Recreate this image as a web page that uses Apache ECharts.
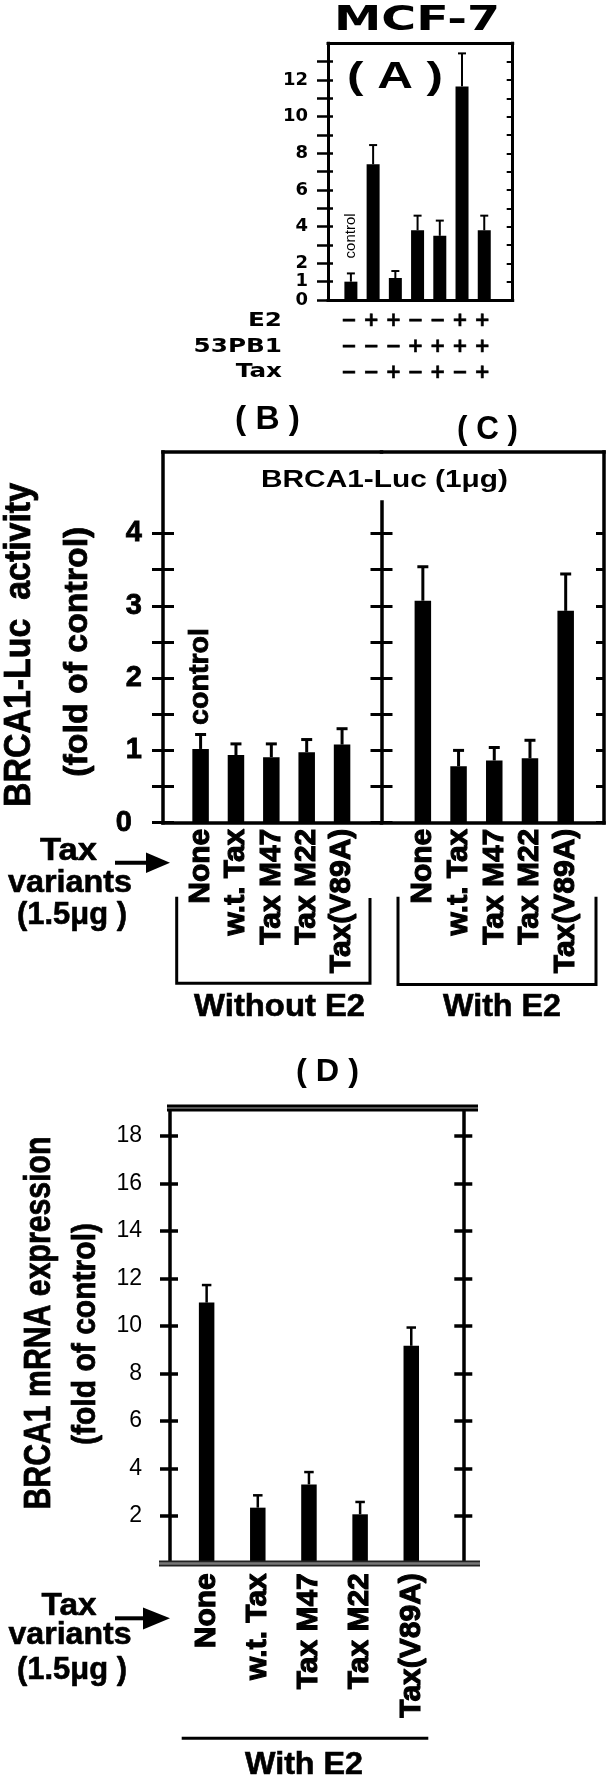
<!DOCTYPE html>
<html><head><meta charset="utf-8">
<script src="https://cdn.jsdelivr.net/npm/echarts@6/dist/echarts.min.js"></script>
<style>html,body{margin:0;padding:0;background:#fff}#c{width:615px;height:1782px}</style>
</head><body><div id="c"></div>
<script>
// ---------- DATA ----------
// Panel A (MCF-7)
const A_POS = [1, 2, 3, 4, 5, 6, 7];
const A_VALUES = [1.0, 7.4, 1.2, 3.8, 3.5, 11.65, 3.8];
const A_ERRORS = [0.45, 1.05, 0.38, 0.8, 0.83, 1.8, 0.8];
const A_E2 = ['−', '+', '+', '−', '−', '+', '+'];
const A_53PB1 = ['−', '−', '−', '+', '+', '+', '+'];
const A_TAX = ['−', '−', '+', '−', '+', '−', '+'];
const A_TICKS = [0, 1, 2, 3, 4, 5, 6, 7, 8, 9, 10, 11, 12, 13];
const A_TICKS_RIGHT = [1, 2, 3, 4, 5, 6, 7, 8, 9, 10, 11, 12, 13];
const A_TICK_LABELS = [0, 1, 2, 4, 6, 8, 10, 12];
// Panels B / C (BRCA1-Luc activity)
const TAX_VARIANTS = ['None', 'w.t. Tax', 'Tax M47', 'Tax M22', 'Tax(V89A)'];
const VAR_POS = [1, 2, 3, 4, 5];
const B_VALUES = [1.02, 0.935, 0.905, 0.975, 1.08];
const B_ERRORS = [0.2, 0.155, 0.185, 0.175, 0.22];
const C_VALUES = [3.07, 0.78, 0.86, 0.89, 2.93];
const C_ERRORS = [0.47, 0.22, 0.18, 0.25, 0.51];
const BC_TICKS = [0, 0.5, 1, 1.5, 2, 2.5, 3, 3.5, 4];
const BC_TICK_LABELS = [0, 1, 2, 3, 4];
// Panel D (BRCA1 mRNA expression)
const D_VALUES = [10.98, 2.34, 3.32, 2.06, 9.16];
const D_ERRORS = [0.74, 0.52, 0.52, 0.52, 0.77];
const D_TICK_LABELS = [2, 4, 6, 8, 10, 12, 14, 16, 18];

// ---------- LAYOUT ----------
const LS = 'Liberation Sans', DJ = 'DejaVu Sans';
const A_X = [-0.03, 8.28], A_YMAX = 14;
const B_X = [-0.063, 6.115], C_X = [-0.158, 6.073], BC_YMAX = 5.127, DIVIDER_TOP = 4.46;
const D_X = [0.284, 6.017], D_YMAX = 19.18;

const chart = echarts.init(document.getElementById('c'), null, {renderer: 'canvas'});
const mctx = document.createElement('canvas').getContext('2d');
function measure(t, size, weight, fam) { mctx.font = weight + ' ' + size + 'px "' + fam + '"'; return mctx.measureText(t).width; }
function T(t, cx, cy, size, weight, fam, target, rot, align, sx, stroke) {
  const s = sx ? sx : (target ? target / measure(t, size, weight, fam) : 1);
  const style = {text: t, fontSize: size, fontWeight: weight, fontFamily: fam, fill: '#000',
    align: align || 'center', textAlign: align || 'center', verticalAlign: 'middle', textVerticalAlign: 'middle'};
  if (stroke) { style.stroke = '#000'; style.lineWidth = stroke; }
  return {type: 'text', x: cx, y: cy, rotation: rot || 0, scaleX: s, z: 20, style};
}
function L(points, w, color) {
  return {type: 'polyline', z: 20, shape: {points}, style: {stroke: color || '#000', lineWidth: w, fill: null}};
}
function P(points) { return {type: 'polygon', z: 20, shape: {points}, style: {fill: '#000'}}; }

function axis(grid, range, position, o) {
  o = o || {};
  return {
    type: 'value', gridIndex: grid, min: range[0], max: range[1], position,
    splitLine: {show: false}, axisPointer: {show: false}, z: 10,
    axisLine: o.line ? {show: true, onZero: false, lineStyle: {color: '#000', width: o.line, cap: 'square'}} : {show: false, onZero: false},
    axisTick: o.ticks ? {show: true, inside: !!o.inside, length: o.tickLen, customValues: o.ticks, lineStyle: {color: '#000', width: o.tickW || 3}} : {show: false},
    axisLabel: o.label ? Object.assign({show: true, color: '#000', showMinLabel: true, showMaxLabel: true, hideOverlap: false}, o.label) : {show: false}
  };
}
const varLabel = (margin) => ({customValues: VAR_POS, formatter: v => TAX_VARIANTS[Math.round(v) - 1], rotate: 90,
  fontFamily: LS, fontWeight: 'bold', fontSize: 30, margin, textBorderColor: '#000', textBorderWidth: 1.1});

function bars(xi, yi, pos, vals, w) {
  return {type: 'bar', xAxisIndex: xi, yAxisIndex: yi, barWidth: w, silent: true, clip: false,
    itemStyle: {color: '#000'}, data: pos.map((x, i) => [x, vals[i]]), z: 5};
}
function errs(xi, yi, pos, vals, er, cap, lw) {
  return {type: 'custom', xAxisIndex: xi, yAxisIndex: yi, clip: false, silent: true, z: 6,
    data: pos.map((x, i) => [x, vals[i], er[i]]),
    renderItem(params, api) {
      const x = api.value(0), v = api.value(1), e = api.value(2);
      const p0 = api.coord([x, v]), p1 = api.coord([x, v + e]);
      return {type: 'group', children: [
        {type: 'line', shape: {x1: p0[0], y1: p0[1], x2: p1[0], y2: p1[1]}, style: {stroke: '#000', lineWidth: lw}},
        {type: 'line', shape: {x1: p1[0] - cap / 2, y1: p1[1], x2: p1[0] + cap / 2, y2: p1[1]}, style: {stroke: '#000', lineWidth: lw}}
      ]};
    }};
}
function control(xi, yi, x, top, size, weight, gap, target, stroke) {
  const s = target ? target / measure('control', size, weight, LS) : 1;
  return {type: 'custom', xAxisIndex: xi, yAxisIndex: yi, clip: false, silent: true, z: 6, data: [[x, top]],
    renderItem(params, api) {
      const p = api.coord([api.value(0), api.value(1)]);
      const style = {text: 'control', fontSize: size, fontWeight: weight, fontFamily: LS, fill: '#000',
        align: 'left', textAlign: 'left', verticalAlign: 'middle', textVerticalAlign: 'middle'};
      if (stroke) { style.stroke = '#000'; style.lineWidth = stroke; }
      return {type: 'text', x: p[0], y: p[1] - gap, rotation: Math.PI / 2, scaleX: s, style};
    }};
}
const signs = {type: 'custom', xAxisIndex: 0, yAxisIndex: 0, clip: false, silent: true, z: 6,
  data: A_POS.map((x, i) => [x, 0, i]),
  renderItem(params, api) {
    const i = api.value(2), p = api.coord([api.value(0), 0]);
    const rows = [[A_E2, 21], [A_53PB1, 47], [A_TAX, 73]];
    return {type: 'group', children: rows.map(r => ({type: 'text', x: p[0] - 2, y: p[1] + r[1],
      style: {text: r[0][i], fontFamily: DJ, fontWeight: 'bold', fontSize: 19, fill: '#000',
        stroke: '#000', lineWidth: 0.6,
        align: 'center', textAlign: 'center', verticalAlign: 'middle', textVerticalAlign: 'middle'}}))};
  }};

const bSeries = bars(2, 3, VAR_POS, B_VALUES, 16.5);
bSeries.markLine = {silent: true, symbol: ['none', 'none'], label: {show: false}, animation: false,
  lineStyle: {color: '#000', width: 3.5, type: 'solid'},
  data: [[{coord: [B_X[1], 0]}, {coord: [B_X[1], DIVIDER_TOP]}]]};

const option = {
  animation: false,
  backgroundColor: '#fff',
  grid: [
    {left: 328, top: 43.3, width: 184.7, height: 256.7},
    {left: 163, top: 452, width: 218.5, height: 370.7},
    {left: 381.5, top: 452, width: 222.5, height: 370.7},
    {left: 170, top: 1108, width: 293.3, height: 455.2}
  ],
  xAxis: [
    axis(0, A_X, 'bottom', {line: 3}),
    axis(0, A_X, 'top', {line: 3}),
    axis(1, B_X, 'bottom', {line: 3.5, label: varLabel(6)}),
    axis(1, B_X, 'top', {line: 3.5}),
    axis(2, C_X, 'bottom', {line: 3.5, label: varLabel(6)}),
    axis(2, C_X, 'top', {line: 3.5}),
    axis(3, D_X, 'bottom', {label: varLabel(10)})
  ],
  yAxis: [
    axis(0, [0, A_YMAX], 'left', {line: 3, ticks: A_TICKS, tickLen: 11, tickW: 2.5,
      label: {customValues: A_TICK_LABELS, fontFamily: DJ, fontWeight: 'bold', fontSize: 18, margin: 20}}),
    axis(0, [0, A_YMAX], 'left', {ticks: A_TICKS, inside: true, tickLen: 5, tickW: 2.5}),
    axis(0, [0, A_YMAX], 'right', {line: 3, ticks: A_TICKS_RIGHT, inside: true, tickLen: 6, tickW: 2}),
    axis(1, [0, BC_YMAX], 'left', {line: 3.5, ticks: BC_TICKS, tickLen: 11,
      label: {customValues: BC_TICK_LABELS, fontFamily: LS, fontWeight: 'bold', fontSize: 29, margin: 21,
        textBorderColor: '#000', textBorderWidth: 0.8,
        formatter: v => v === 0 ? '{z|0}' : String(v),
        rich: {z: {fontFamily: LS, fontWeight: 'bold', fontSize: 29, color: '#000', padding: [0, 10, 0, 0],
          textBorderColor: '#000', textBorderWidth: 0.8}}}}),
    axis(1, [0, BC_YMAX], 'left', {ticks: BC_TICKS, inside: true, tickLen: 11}),
    axis(1, [0, BC_YMAX], 'right', {ticks: BC_TICKS, tickLen: 11}),
    axis(1, [0, BC_YMAX], 'right', {ticks: BC_TICKS, inside: true, tickLen: 11}),
    axis(2, [0, BC_YMAX], 'right', {line: 3.5, ticks: BC_TICKS, inside: true, tickLen: 8}),
    axis(3, [0, D_YMAX], 'left', {line: 3.5, ticks: D_TICK_LABELS, tickLen: 10, tickW: 3.5,
      label: {customValues: D_TICK_LABELS, fontFamily: LS, fontWeight: 'normal', fontSize: 23, margin: 28}}),
    axis(3, [0, D_YMAX], 'left', {ticks: D_TICK_LABELS, inside: true, tickLen: 8, tickW: 3.5}),
    axis(3, [0, D_YMAX], 'right', {line: 3.5, ticks: D_TICK_LABELS, inside: true, tickLen: 9, tickW: 3.5}),
    axis(3, [0, D_YMAX], 'right', {ticks: D_TICK_LABELS, tickLen: 9, tickW: 3.5})
  ],
  series: [
    bars(0, 0, A_POS, A_VALUES, 13),
    errs(0, 0, A_POS, A_VALUES, A_ERRORS, 8, 2),
    signs,
    control(0, 0, A_POS[0], A_VALUES[0] + A_ERRORS[0], 15, 'normal', 15, 45, 0),
    bSeries,
    errs(2, 3, VAR_POS, B_VALUES, B_ERRORS, 11, 3),
    control(2, 3, VAR_POS[0], B_VALUES[0] + B_ERRORS[0], 28, 'bold', 9.5, 97, 0.8),
    bars(4, 7, VAR_POS, C_VALUES, 16.5),
    errs(4, 7, VAR_POS, C_VALUES, C_ERRORS, 11, 3),
    bars(6, 8, VAR_POS, D_VALUES, 15.5),
    errs(6, 8, VAR_POS, D_VALUES, D_ERRORS, 9.5, 2.5)
  ],
  graphic: [
    // Panel A
    T('MCF-7', 417, 21, 34, 'bold', DJ, 166),
    T('( A )', 395, 78.5, 36, 'bold', LS, 96),
    T('E2', 282, 321, 19, 'bold', DJ, 0, 0, 'right', 1.3),
    T('53PB1', 282, 347, 19, 'bold', DJ, 0, 0, 'right', 1.3),
    T('Tax', 282, 372.5, 19, 'bold', DJ, 0, 0, 'right', 1.3),
    // Panels B / C
    T('( B )', 267.5, 419.5, 34, 'bold', LS, 65),
    T('( C )', 487.5, 429.5, 34, 'bold', LS, 61),
    T('BRCA1-Luc (1μg)', 384.5, 480, 24, 'bold', LS, 247),
    T('BRCA1-Luc  activity', 20, 645, 36, 'bold', LS, 324, Math.PI / 2, 'center', 0, 0.8),
    T('(fold of control)', 78, 651.7, 34, 'bold', LS, 250, Math.PI / 2, 'center', 0, 0.8),
    T('Tax', 68.5, 851, 31, 'bold', LS, 57, 0, 'center', 0, 0.6),
    T('variants', 70, 883, 31, 'bold', LS, 124, 0, 'center', 0, 0.6),
    T('(1.5μg )', 72, 915, 31, 'bold', LS, 110, 0, 'center', 0, 0.6),
    L([[115, 862.7], [149, 862.7]], 4),
    P([[146, 852.5], [170, 862.7], [146, 873]]),
    L([[176.7, 896.7], [176.7, 983.3], [370, 983.3], [370, 898]], 3),
    L([[398, 896.7], [398, 984.5], [596, 984.5], [596, 896.7]], 3),
    T('Without E2', 279.6, 1007.5, 31, 'bold', LS, 171, 0, 'center', 0, 0.6),
    T('With E2', 502, 1007.5, 31, 'bold', LS, 118, 0, 'center', 0, 0.6),
    // Panel D
    T('( D )', 327.5, 1072, 31, 'bold', LS, 63),
    T('BRCA1 mRNA expression', 40, 1323, 36, 'bold', LS, 373, Math.PI / 2, 'center', 0, 0.8),
    T('(fold of control)', 86, 1334, 34, 'bold', LS, 222, Math.PI / 2, 'center', 0, 0.8),
    L([[167, 1108], [478, 1108]], 7, '#000'),
    L([[167, 1108], [478, 1108]], 1.2, '#aaa'),
    L([[159, 1563.5], [480, 1563.5]], 6, '#222'),
    L([[159, 1563.5], [480, 1563.5]], 2.5, '#777'),
    T('Tax', 69, 1606.7, 31, 'bold', LS, 55, 0, 'center', 0, 0.6),
    T('variants', 70, 1635, 31, 'bold', LS, 123, 0, 'center', 0, 0.6),
    T('(1.5μg )', 72, 1670, 31, 'bold', LS, 110, 0, 'center', 0, 0.6),
    L([[115, 1618.3], [146, 1618.3]], 4),
    P([[143, 1607.5], [170, 1618.3], [143, 1629.5]]),
    L([[181.7, 1738.3], [428.3, 1738.3]], 3),
    T('With E2', 304, 1765, 31, 'bold', LS, 118, 0, 'center', 0, 0.6)
  ]
};
chart.setOption(option);
</script>
</body></html>
